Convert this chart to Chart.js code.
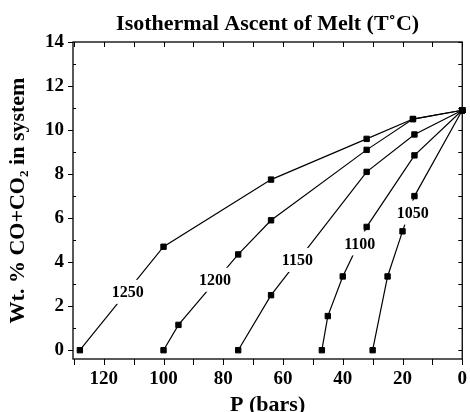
<!DOCTYPE html>
<html>
<head>
<meta charset="utf-8">
<script src="https://cdn.jsdelivr.net/npm/chart.js@4.4.0/dist/chart.umd.min.js"></script>
<style>
  html, body { margin: 0; padding: 0; background: #fff; }
</style>
</head>
<body>
<canvas id="myChart" width="470" height="412"></canvas>
<script>
// isotherms, pressure (bars) and wt.% CO+CO2 along each ascent path
var isotherms = ['1250', '1200', '1150', '1100', '1050'];

var p1250 = [128, 100, 64, 32, 16.5, 0];
var wt1250 = [0, 4.7, 7.75, 9.6, 10.5, 10.9];

var p1200 = [100, 95, 75, 64, 32, 16.5, 0];
var wt1200 = [0, 1.15, 4.35, 5.9, 9.1, 10.5, 10.9];

var p1150 = [75, 64, 32, 16, 0];
var wt1150 = [0, 2.5, 8.1, 9.8, 10.9];

var p1100 = [47, 45, 40, 32, 16, 0];
var wt1100 = [0, 1.55, 3.35, 5.6, 8.85, 10.9];

var p1050 = [30, 25, 20, 16, 0];
var wt1050 = [0, 3.35, 5.4, 7.0, 10.9];

// where each isotherm name sits on its curve
var labelP = [112, 82.8, 55.2, 34.3, 16.6];
var labelWt = [2.65, 3.2, 4.1, 4.85, 6.25];

var yTicks = [0, 2, 4, 6, 8, 10, 12, 14];

var serif = '"Liberation Serif", "Times New Roman", serif';

function toPoints(ps, ws) {
    return ps.map(function (p, i) { return { x: p, y: ws[i] }; });
}

var series = [
    toPoints(p1250, wt1250),
    toPoints(p1200, wt1200),
    toPoints(p1150, wt1150),
    toPoints(p1100, wt1100),
    toPoints(p1050, wt1050)
];

// box frame with inward / outward tick marks
var frameTicks = {
    id: 'frameTicks',
    beforeDatasetsDraw: function (chart) {
        var ctx = chart.ctx, a = chart.chartArea;
        var x = chart.scales.x, y = chart.scales.y;
        ctx.save();
        ctx.strokeStyle = '#000';
        ctx.lineWidth = 1.3;
        ctx.strokeRect(a.left, a.top, a.right - a.left, a.bottom - a.top);
        ctx.lineWidth = 1;
        ctx.beginPath();
        for (var p = 0; p <= 130; p += 10) {
            var px = Math.round(x.getPixelForValue(p)) + 0.5;
            ctx.moveTo(px, a.bottom); ctx.lineTo(px, a.bottom + 6);
            ctx.moveTo(px, a.top); ctx.lineTo(px, a.top + 5);
        }
        for (var w = 0; w <= 14; w++) {
            var py = Math.round(y.getPixelForValue(w)) + 0.5;
            if (w % 2 === 0) {
                ctx.moveTo(a.left - 5, py); ctx.lineTo(a.left, py);
            } else {
                ctx.moveTo(a.left, py); ctx.lineTo(a.left + 3, py);
            }
            ctx.moveTo(a.right - 4, py); ctx.lineTo(a.right, py);
        }
        ctx.stroke();
        ctx.restore();
    }
};

// isotherm names written over the curves on a white patch
var isoLabels = {
    id: 'isoLabels',
    afterDatasetsDraw: function (chart) {
        var ctx = chart.ctx;
        var x = chart.scales.x, y = chart.scales.y;
        ctx.save();
        ctx.font = 'bold 16px ' + serif;
        ctx.textAlign = 'center';
        ctx.textBaseline = 'middle';
        isotherms.forEach(function (t, i) {
            var px = x.getPixelForValue(labelP[i]);
            var py = y.getPixelForValue(labelWt[i]);
            var w = ctx.measureText(t).width + 8;
            ctx.fillStyle = '#fff';
            ctx.fillRect(px - w / 2, py - 12, w, 24);
            ctx.fillStyle = '#000';
            ctx.fillText(t, px, py + 1);
        });
        ctx.restore();
    }
};

var ctx = document.getElementById('myChart').getContext('2d');

var myChart = new Chart(ctx, {
    type: 'scatter',
    data: {
        datasets: series.map(function (pts, i) {
            return {
                label: isotherms[i],
                data: pts,
                showLine: true,
                borderColor: '#000',
                borderWidth: 1.2,
                pointStyle: 'rect',
                pointRadius: 3.8,
                pointBackgroundColor: '#000',
                pointBorderColor: '#000',
                pointBorderWidth: 1,
                clip: false
            };
        })
    },
    options: {
        responsive: false,
        animation: false,
        layout: { padding: { left: 0, right: 6, top: 0, bottom: 0 } },
        scales: {
            x: {
                type: 'linear',
                reverse: true,
                min: 0,
                max: 130.3,
                afterFit: function (s) { s.height = 53; },
                grid: { drawOnChartArea: false, tickLength: 6, color: 'transparent' },
                border: { display: false },
                ticks: {
                    stepSize: 10,
                    autoSkip: false,
                    maxRotation: 0,
                    padding: 3,
                    color: '#000',
                    font: { family: serif, size: 19, weight: 'bold' },
                    callback: function (v) { return v % 20 === 0 ? v : ''; }
                },
                title: {
                    display: true,
                    text: 'P (bars)',
                    color: '#000',
                    font: { family: serif, size: 22, weight: 'bold', lineHeight: 1 },
                    padding: { top: 0, bottom: -4 }
                }
            },
            y: {
                min: -0.4,
                max: 14,
                afterFit: function (s) { s.width = 73; },
                afterBuildTicks: function (s) {
                    s.ticks = yTicks.map(function (v) { return { value: v }; });
                },
                grid: { drawOnChartArea: false, tickLength: 5, color: 'transparent' },
                border: { display: false },
                ticks: {
                    padding: 4,
                    color: '#000',
                    font: { family: serif, size: 19, weight: 'bold' }
                },
                title: {
                    display: true,
                    text: 'Wt. % CO+CO\u2082 in system',
                    color: '#000',
                    font: { family: serif, size: 22, weight: 'bold' },
                    padding: { top: 5, bottom: 0 }
                }
            }
        },
        plugins: {
            legend: { display: false },
            tooltip: { enabled: false },
            title: {
                display: true,
                fullSize: false,
                text: 'Isothermal Ascent of Melt (T\u02DAC)',
                color: '#000',
                font: { family: serif, size: 22, weight: 'bold' },
                padding: { top: 11, bottom: 4.6 }
            }
        }
    },
    plugins: [frameTicks, isoLabels]
});
</script>
</body>
</html>
